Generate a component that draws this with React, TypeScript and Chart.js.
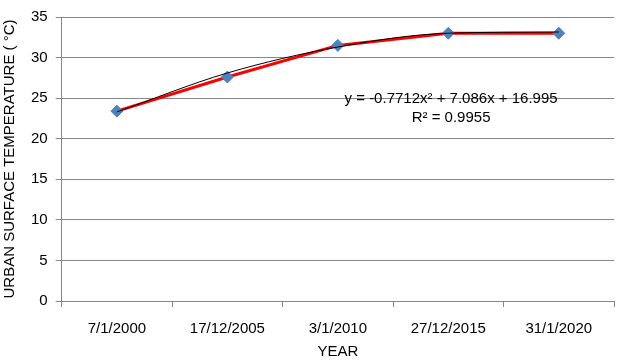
import React, { useEffect, useRef } from "react";
import { Chart, registerables } from "chart.js";

Chart.register(...registerables);

const categories = ["7/1/2000", "17/12/2005", "3/1/2010", "27/12/2015", "31/1/2020"];
const temperatures = [23.4, 27.6, 31.5, 33.0, 33.0];
const trendValues = [23.3, 28.1, 31.3, 33.0, 33.15];
const yTicks = [0, 5, 10, 15, 20, 25, 30, 35];
const equationLines = ["y = -0.7712x² + 7.086x + 16.995", "R² = 0.9955"];

const FONT = "'Liberation Sans', Arial, sans-serif";

const equationPlugin = {
  id: "equationText",
  afterDatasetsDraw(chart: any) {
    const { ctx, chartArea } = chart;
    const cx = chartArea.left + (chartArea.right - chartArea.left) * 0.705;
    const y0 = chartArea.top + 82;
    ctx.save();
    ctx.fillStyle = "#000000";
    ctx.font = `15px ${FONT}`;
    ctx.textAlign = "center";
    ctx.textBaseline = "middle";
    ctx.fillText(equationLines[0], cx, y0);
    ctx.fillText(equationLines[1], cx, y0 + 19);
    ctx.restore();
  },
};

export default function App() {
  const ref = useRef<HTMLCanvasElement | null>(null);
  useEffect(() => {
    if (!ref.current) return;
    const chart = new Chart(ref.current, {
      type: "line",
      data: {
        labels: categories,
        datasets: [
          {
            label: "Trend",
            data: trendValues,
            borderColor: "#000000",
            borderWidth: 1,
            pointRadius: 0,
            cubicInterpolationMode: "monotone",
            fill: false,
            order: 0,
          },
          {
            label: "Temperature",
            data: temperatures,
            borderColor: "#FF0000",
            borderWidth: 3,
            pointStyle: "rectRot",
            pointRadius: 6,
            pointBackgroundColor: "#4F81BD",
            pointBorderColor: "#4F81BD",
            pointBorderWidth: 1,
            tension: 0,
            fill: false,
            order: 1,
          },
        ],
      },
      options: {
        responsive: false,
        animation: false,
        layout: { padding: { top: 9, right: 0, left: 1, bottom: 0 } },
        plugins: {
          legend: { display: false },
          tooltip: { enabled: false },
        },
        scales: {
          x: {
            offset: true,
            grid: {
              offset: true,
              drawOnChartArea: false,
              drawTicks: true,
              tickLength: 6,
              color: "#868686",
            },
            border: { color: "#868686" },
            ticks: { color: "#000000", font: { family: FONT, size: 15 }, padding: 13, maxRotation: 0 },
            title: { display: true, text: "YEAR", color: "#000000", font: { family: FONT, size: 15 }, padding: { top: -8, bottom: 0 } },
          },
          y: {
            min: 0,
            max: 35,
            afterBuildTicks: (axis: any) => {
              axis.ticks = yTicks.map((v) => ({ value: v }));
            },
            grid: { color: "#868686", drawTicks: true, tickLength: 6 },
            border: { color: "#868686" },
            ticks: { color: "#000000", font: { family: FONT, size: 15 }, padding: 8 },
            title: {
              display: true,
              text: "URBAN SURFACE TEMPERATURE ( °C)",
              color: "#000000",
              font: { family: FONT, size: 15 },
              padding: { top: 0, bottom: 4 },
            },
          },
        },
      },
      plugins: [equationPlugin],
    });
    return () => chart.destroy();
  }, []);
  return (
    <div style={{ position: "fixed", left: 0, top: 0, width: 621, height: 361, background: "#ffffff" }}>
      <canvas ref={ref} width={621} height={361} />
    </div>
  );
}
